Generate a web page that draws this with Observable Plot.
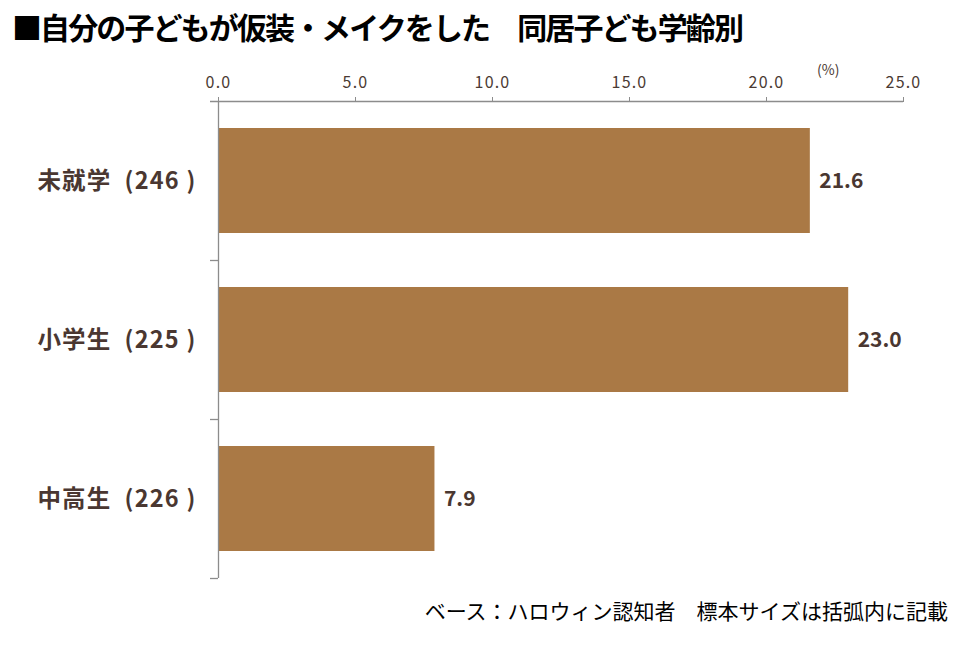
<!DOCTYPE html>
<html><head><meta charset="utf-8">
<script src="https://cdn.jsdelivr.net/npm/d3@7"></script>
<script src="https://cdn.jsdelivr.net/npm/@observablehq/plot@0.6"></script>
<style>
body{margin:0;background:#fff;font-family:"Noto Sans CJK JP","Noto Sans",sans-serif;}
#wrap{position:relative;width:960px;height:650px;}
#title{position:absolute;left:12px;top:4px;font-size:30px;font-weight:bold;color:#000;letter-spacing:-1.9px;white-space:pre;}
#chart{position:absolute;left:0;top:50px;}
#unit{position:absolute;left:817px;top:59px;font-size:14px;color:#4a3a33;z-index:2;}
#foot{position:absolute;right:12px;top:595px;font-size:21px;color:#000;white-space:pre;}
</style></head>
<body>
<div id="wrap">
<div id="title">■自分の子どもが仮装・メイクをした　同居子ども学齢別</div>
<div id="unit">(%)</div>
<div id="chart"></div>
<div id="foot">ベース：ハロウィン認知者　標本サイズは括弧内に記載</div>
</div>
<script>
const categories = ["未就学", "小学生", "中高生"];
const sampleSizes = [246, 225, 226];
const values = [21.6, 23.0, 7.9];
const xTicks = [0, 5, 10, 15, 20, 25];
const unitLabel = "(%)";

const data = categories.map((c, i) => ({cat: `${c}  (${sampleSizes[i]} )`, value: values[i]}));
const H = 550, MT = 51, MB = 22;
const step = (H - MT - MB) / categories.length;
const barColor = "#aa7945";
const axisColor = "#8c8c8c";
const textColor = "#4a3731";

const chart = Plot.plot({
  width: 960,
  height: H,
  marginTop: MT,
  marginBottom: MB,
  marginLeft: 218,
  marginRight: 57,
  style: {fontFamily: '"Noto Sans CJK JP","Noto Sans",sans-serif', background: "#fff"},
  x: {domain: [0, 25]},
  y: {domain: data.map(d => d.cat), padding: 0},
  marks: [
    Plot.barX(data, {x: "value", y: "cat", fill: barColor, insetTop: 27, insetBottom: 27}),
    Plot.ruleX([0], {stroke: axisColor, strokeWidth: 1.3}),
    Plot.ruleY(data.slice(0, 1), {y: "cat", x1: 0, x2: 25, insetLeft: -8, dy: -step / 2, stroke: axisColor, strokeWidth: 1.3}),
    Plot.ruleY(data.slice(1), {y: "cat", x1: 0, x2: 0, insetLeft: -8, dy: -step / 2, stroke: axisColor, strokeWidth: 1.3}),
    Plot.ruleY(data.slice(-1), {y: "cat", x1: 0, x2: 0, insetLeft: -8, dy: step / 2, stroke: axisColor, strokeWidth: 1.3}),
    Plot.axisX({anchor: "top", ticks: xTicks, tickFormat: d3.format(".1f"), tickSize: 5, tickPadding: 9, stroke: axisColor, color: "#4a3a33", label: null}),
    Plot.axisY({tickSize: 0, tickPadding: 22, fill: textColor, label: null}),
    Plot.text(data, {x: "value", y: "cat", text: d => d3.format(".1f")(d.value), dx: 9, textAnchor: "start", fill: textColor})
  ]
});
const svg = d3.select(chart);
svg.selectAll('g[aria-label="x-axis tick label"], g[aria-label="x-axis tick label"] text').style("font-size", "16px").style("letter-spacing", "1.2px");
svg.selectAll('g[aria-label="y-axis tick label"], g[aria-label="y-axis tick label"] text').style("font-size", "23.5px").style("font-weight", "bold").style("letter-spacing", "1.2px").style("white-space", "pre");
svg.selectAll('g[aria-label="text"], g[aria-label="text"] text').style("font-size", "21px").style("font-weight", "bold");
document.getElementById("chart").appendChild(chart);
</script>
</body></html>
